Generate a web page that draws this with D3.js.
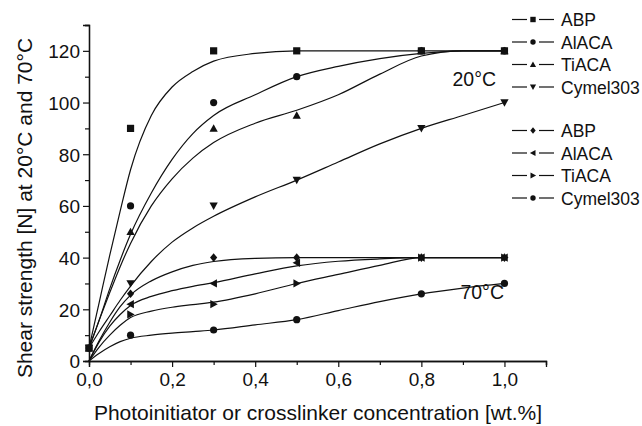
<!DOCTYPE html>
<html>
<head>
<meta charset="utf-8">
<script src="https://cdn.jsdelivr.net/npm/d3@7"></script>
<style>
  body { margin: 0; background: #fff; }
  svg text { font-family: "Liberation Sans", Arial, sans-serif; fill: #111; }
</style>
</head>
<body>
<svg id="chart" width="642" height="426"></svg>
<script>
// measured points
var conc = [0, 0.1, 0.3, 0.5, 0.8, 1.0];
var abp20 = [5, 90, 120, 120, 120, 120];
var alaca20 = [5, 60, 100, 110, 120, 120];
var tiaca20 = [5, 50, 90, 95, 120, 120];
var cymel20 = [5, 30, 60, 70, 90, 100];
var abp70 = [0, 26, 40, 40, 40, 40];
var alaca70 = [0, 22, 30, 38, 40, 40];
var tiaca70 = [0, 18, 22, 30, 40, 40];
var cymel70 = [0, 10, 12, 16, 26, 30];

// fitted curves
var fitX = [0, 0.025, 0.05, 0.075, 0.1, 0.15, 0.2, 0.25, 0.3, 0.4, 0.5, 0.6, 0.7, 0.8, 0.9, 1.0];
var abp20Fit = [5, 23, 41, 58, 74, 95, 106, 112, 116, 119, 120, 120, 120, 120, 120, 120];
var alaca20Fit = [5, 16, 28, 39, 49, 65, 78, 88, 95, 103, 110, 114, 117, 119, 120, 120];
var tiaca20Fit = [5, 16, 26.5, 36.5, 45.5, 60, 70.5, 78.5, 84.5, 92, 97, 103, 111, 118, 120, 120];
var cymel20Fit = [5, 11.5, 17.5, 23.5, 29, 38.5, 46, 51.5, 56, 63.5, 70, 77, 84, 90, 95, 100];
var abp70Fit = [0, 8, 15, 21, 25.5, 31, 34.5, 37, 38.5, 39.7, 40, 40, 40, 40, 40, 40];
var alaca70Fit = [0, 7.5, 13.5, 18, 21.5, 25, 27.2, 28.9, 30.3, 33.7, 36.8, 38.6, 39.5, 40, 40, 40];
var tiaca70Fit = [0, 5.5, 10, 13.8, 16.8, 19.3, 20.8, 21.8, 22.8, 26, 30, 33.5, 37, 40, 40, 40];
var cymel70Fit = [0, 3, 5.5, 7.5, 8.8, 10, 10.8, 11.4, 12, 14, 16, 19.5, 23, 26, 28.2, 30];

var xTicks = [0, 0.2, 0.4, 0.6, 0.8, 1.0];
var yTicks = [0, 20, 40, 60, 80, 100, 120];

var series = [
  {name: "ABP", temp: 20, pts: abp20, fit: abp20Fit, sym: "square"},
  {name: "AlACA", temp: 20, pts: alaca20, fit: alaca20Fit, sym: "circle"},
  {name: "TiACA", temp: 20, pts: tiaca20, fit: tiaca20Fit, sym: "triUp"},
  {name: "Cymel303", temp: 20, pts: cymel20, fit: cymel20Fit, sym: "triDown"},
  {name: "ABP", temp: 70, pts: abp70, fit: abp70Fit, sym: "diamond"},
  {name: "AlACA", temp: 70, pts: alaca70, fit: alaca70Fit, sym: "triLeft"},
  {name: "TiACA", temp: 70, pts: tiaca70, fit: tiaca70Fit, sym: "triRight"},
  {name: "Cymel303", temp: 70, pts: cymel70, fit: cymel70Fit, sym: "circle"}
];

var svg = d3.select("#chart");
var x = d3.scaleLinear().domain([0, 1.1]).range([89, 546]);
var y = d3.scaleLinear().domain([0, 130]).range([361, 25]);

// marker path for a given symbol, r = half size
function marker(sym, r) {
  if (sym == "square") return d3.symbol(d3.symbolSquare, (2*r)*(2*r))();
  if (sym == "circle") return d3.symbol(d3.symbolCircle, Math.PI*r*r)();
  if (sym == "diamond") return "M0," + (-r*1.2) + "L" + r + ",0L0," + (r*1.2) + "L" + (-r) + ",0Z";
  var t = r * 1.15;
  if (sym == "triUp") return "M0," + (-t) + "L" + t + "," + (t*0.8) + "L" + (-t) + "," + (t*0.8) + "Z";
  if (sym == "triDown") return "M0," + t + "L" + t + "," + (-t*0.8) + "L" + (-t) + "," + (-t*0.8) + "Z";
  if (sym == "triLeft") return "M" + (-t) + ",0L" + (t*0.8) + "," + (-t) + "L" + (t*0.8) + "," + t + "Z";
  if (sym == "triRight") return "M" + t + ",0L" + (-t*0.8) + "," + (-t) + "L" + (-t*0.8) + "," + t + "Z";
}

// axes
var xAxis = d3.axisBottom(x).tickValues(xTicks).tickSize(6).tickPadding(5)
  .tickFormat(function(d) { return d3.format(".1f")(d).replace(".", ","); });
var xMinor = d3.axisBottom(x).tickValues([0.1, 0.3, 0.5, 0.7, 0.9, 1.1]).tickSize(4).tickFormat("");
var yAxis = d3.axisLeft(y).tickValues(yTicks).tickSize(6).tickPadding(3);
var yMinor = d3.axisLeft(y).tickValues([10, 30, 50, 70, 90, 110, 130]).tickSize(4).tickFormat("");

svg.append("g").attr("transform", "translate(0,361)").call(xMinor);
var gx = svg.append("g").attr("transform", "translate(0,361)").call(xAxis);
svg.append("g").attr("transform", "translate(89,0)").call(yMinor);
var gy = svg.append("g").attr("transform", "translate(89,0)").call(yAxis);
svg.selectAll(".domain").attr("stroke", "#111").attr("stroke-width", 1.3);
svg.selectAll(".tick line").attr("stroke", "#111").attr("stroke-width", 1.2);
gx.selectAll("text").attr("font-size", 19).attr("dy", "0.72em");
gy.selectAll("text").attr("font-size", 19).attr("dy", "0.36em");

// curves
var line = d3.line().curve(d3.curveMonotoneX)
  .x(function(d) { return x(d[0]); })
  .y(function(d) { return y(d[1]); });

series.forEach(function(s) {
  var pts = fitX.map(function(v, i) { return [v, s.fit[i]]; });
  svg.append("path").attr("d", line(pts))
    .attr("fill", "none").attr("stroke", "#111").attr("stroke-width", 1.2);
});

series.forEach(function(s) {
  conc.forEach(function(c, i) {
    if (c == 0 && s.temp == 70) return;
    svg.append("path").attr("d", marker(s.sym, 3.6))
      .attr("transform", "translate(" + x(c) + "," + y(s.pts[i]) + ")")
      .attr("fill", "#111");
  });
});

// temperature labels
svg.append("text").attr("x", x(0.875)).attr("y", y(106.5)).attr("font-size", 19.5).text("20°C");
svg.append("text").attr("x", x(0.894)).attr("y", y(24)).attr("font-size", 19.5).text("70°C");

// legend
var leg = svg.append("g");
series.forEach(function(s, i) {
  var ly = 19.5 + i * 22.5 + (i > 3 ? 21 : 0);
  leg.append("line").attr("x1", 512).attr("x2", 527).attr("y1", ly).attr("y2", ly).attr("stroke", "#111").attr("stroke-width", 1.2);
  leg.append("line").attr("x1", 539).attr("x2", 554).attr("y1", ly).attr("y2", ly).attr("stroke", "#111").attr("stroke-width", 1.2);
  leg.append("path").attr("d", marker(s.sym, 2.7)).attr("transform", "translate(533," + ly + ")").attr("fill", "#111");
  leg.append("text").attr("x", 561).attr("y", ly + 6.5).attr("font-size", 17.5).text(s.name);
});

// axis titles
svg.append("text").attr("x", 318).attr("y", 420).attr("text-anchor", "middle")
  .attr("font-size", 21).text("Photoinitiator or crosslinker concentration [wt.%]");
svg.append("text").attr("transform", "translate(32,208) rotate(-90)").attr("text-anchor", "middle")
  .attr("font-size", 21).text("Shear strength [N] at 20°C and 70°C");
</script>
</body>
</html>
